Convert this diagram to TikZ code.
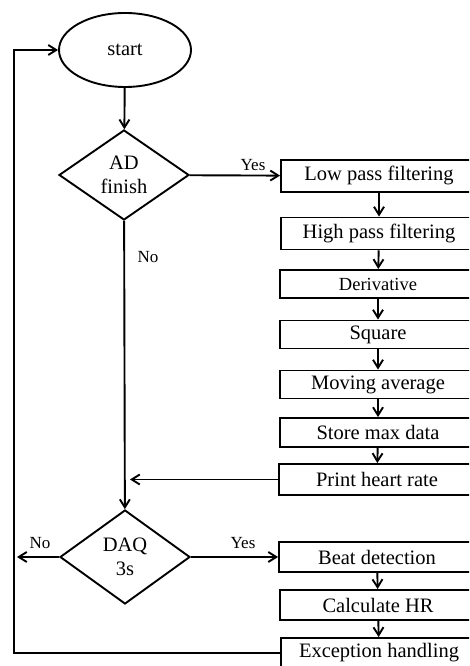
\documentclass[tikz,border=0pt]{standalone}
\usepackage{fontspec}
\setmainfont{Liberation Serif}
\usetikzlibrary{arrows.meta,positioning,shapes.geometric}
\tikzset{
  flw/.style={-{Straight Barb[length=8pt,width=10pt]}, line width=1.9pt},
  stepbox/.style={draw, line width=1.9pt, minimum width=196pt, minimum height=30pt,
              inner sep=0pt, font=\fontsize{20.5}{23}\selectfont},
  dec/.style={draw, diamond, line width=1.9pt, aspect=1.45, minimum width=130pt,
              minimum height=90pt, inner sep=0pt, align=center,
              font=\fontsize{20.5}{24}\selectfont},
  trm/.style={draw, ellipse, line width=1.9pt, minimum width=132pt, minimum height=74pt,
              font=\fontsize{20.5}{23}\selectfont},
  lbl/.style={font=\fontsize{17}{20}\selectfont},
}

\begin{document}
\begin{tikzpicture}[x=1pt, y=1pt]
        \useasboundingbox (0,0) rectangle (469,666);
        \clip (0,0) rectangle (469,666);
        % left column
        \node[trm] (start) at (125,616) {start};
        \node[dec] (adf) at (124,491) {AD\\finish};
        \node[dec, minimum height=94pt] (daq) at (125,109) {DAQ\\3s};
        % right column
        \node[stepbox, minimum height=32pt] (lpf) at (379,490) {Low pass filtering};
        \node[stepbox, minimum height=32pt] (hpf) at (379,432.5) {High pass filtering};
        \node[stepbox, minimum height=28pt, font=\fontsize{18.5}{22}\selectfont] (der) at (378,382) {Derivative};
        \node[stepbox, minimum height=28pt] (sqr) at (378,331.5) {Square};
        \node[stepbox, minimum height=28pt] (mav) at (378,281.5) {Moving average};
        \node[stepbox, minimum height=29pt] (smd) at (378,233.5) {Store max data};
        \node[stepbox, minimum height=31pt] (phr) at (377,186.5) {Print heart rate};
        \node[stepbox] (bdt) at (377,109) {Beat detection};
        \node[stepbox] (chr) at (378,61) {Calculate HR};
        \node[stepbox] (exh) at (379,13) {Exception handling};
        % labels
        \node[lbl] (yes1) at (253,501) {Yes};
        \node[lbl] (no1) at (148,409) {No};
        \node[lbl] (no2) at (40,123) {No};
        \node[lbl] (yes2) at (243,123) {Yes};
        % free ends
        \coordinate (mrg) at (130,186.5);
        \coordinate (nout) at (17,109);
        \coordinate (lp) at (14,13);
        % arrows
        \draw[flw] (start) -- (adf);
        \draw[flw] (adf) -- (lpf);
        \draw[flw] (lpf) -- (hpf);
        \draw[flw] (hpf) -- (der);
        \draw[flw] (der) -- (sqr);
        \draw[flw] (sqr) -- (mav);
        \draw[flw] (mav) -- (smd);
        \draw[flw] (smd) -- (phr);
        \draw[flw] (phr) -- (mrg);
        \draw[flw] (adf) -- (daq);
        \draw[flw] (daq) -- (nout);
        \draw[flw] (daq) -- (bdt);
        \draw[flw] (bdt) -- (chr);
        \draw[flw] (chr) -- (exh);
        \draw[flw] (exh.west) -- (lp) |- (start.west);
\end{tikzpicture}
\end{document}
